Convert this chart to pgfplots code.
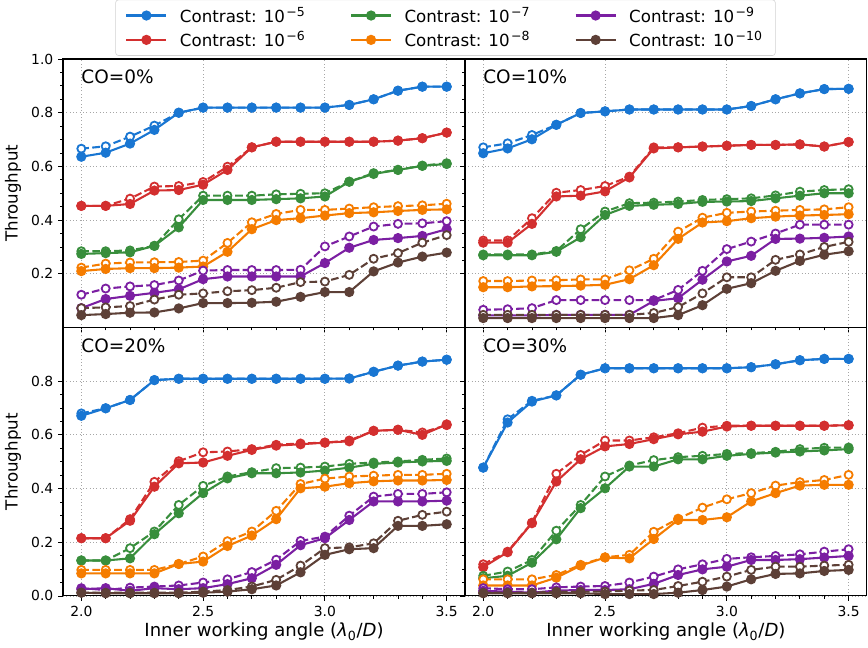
\documentclass[border=0pt]{standalone}
\usepackage{fontspec}
\setmainfont{DejaVu Sans}
\usepackage{pgfplots}
\usepackage{pgfplotstable}
\pgfplotsset{compat=1.18}
\usepgfplotslibrary{groupplots}

\definecolor{cb}{HTML}{1976D2}
\definecolor{cr}{HTML}{D32F2F}
\definecolor{cg}{HTML}{388E3C}
\definecolor{co}{HTML}{F57C00}
\definecolor{cp}{HTML}{7B1FA2}
\definecolor{cn}{HTML}{5D4037}

% x, then solid/dashed for 1e-5 (b), 1e-6 (r), 1e-7 (g), 1e-8 (o), 1e-9 (p), 1e-10 (n)
\pgfplotstableread{
x   bs    bd    rs    rd    gs    gd    os    od    ps    pd    ns    nd
2.0 0.636 0.666 0.453 0.453 0.274 0.284 0.210 0.223 0.072 0.122 0.046 0.072
2.1 0.651 0.675 0.453 0.453 0.277 0.284 0.218 0.238 0.106 0.145 0.050 0.075
2.2 0.685 0.711 0.460 0.480 0.280 0.287 0.221 0.242 0.118 0.153 0.055 0.080
2.3 0.736 0.752 0.510 0.525 0.304 0.304 0.221 0.243 0.129 0.158 0.056 0.104
2.4 0.800 0.800 0.512 0.527 0.373 0.403 0.223 0.244 0.142 0.175 0.071 0.122
2.5 0.819 0.819 0.532 0.542 0.475 0.491 0.227 0.249 0.180 0.212 0.091 0.127
2.6 0.819 0.819 0.587 0.599 0.475 0.491 0.282 0.315 0.190 0.214 0.091 0.135
2.7 0.819 0.819 0.671 0.671 0.475 0.491 0.366 0.392 0.190 0.214 0.092 0.139
2.8 0.819 0.819 0.692 0.692 0.478 0.496 0.400 0.423 0.190 0.214 0.096 0.148
2.9 0.819 0.819 0.692 0.692 0.481 0.498 0.407 0.438 0.190 0.215 0.114 0.169
3.0 0.819 0.819 0.692 0.692 0.488 0.500 0.417 0.438 0.240 0.302 0.132 0.171
3.1 0.829 0.829 0.692 0.692 0.543 0.543 0.426 0.443 0.297 0.339 0.132 0.196
3.2 0.850 0.850 0.692 0.692 0.572 0.575 0.429 0.448 0.326 0.376 0.209 0.256
3.3 0.882 0.882 0.696 0.696 0.587 0.587 0.434 0.452 0.333 0.386 0.242 0.277
3.4 0.897 0.897 0.705 0.705 0.602 0.603 0.438 0.455 0.341 0.388 0.264 0.316
3.5 0.897 0.897 0.726 0.726 0.609 0.612 0.440 0.461 0.366 0.396 0.279 0.344
}\tabA
\pgfplotstableread{
x   bs    bd    rs    rd    gs    gd    os    od    ps    pd    ns    nd
2.0 0.649 0.671 0.316 0.324 0.269 0.272 0.150 0.173 0.045 0.066 0.035 0.047
2.1 0.667 0.686 0.316 0.324 0.269 0.272 0.150 0.173 0.045 0.068 0.035 0.047
2.2 0.701 0.717 0.386 0.407 0.269 0.272 0.153 0.175 0.045 0.072 0.035 0.047
2.3 0.755 0.755 0.488 0.502 0.282 0.285 0.154 0.176 0.047 0.102 0.035 0.047
2.4 0.799 0.799 0.491 0.512 0.336 0.366 0.156 0.179 0.047 0.102 0.035 0.047
2.5 0.805 0.805 0.507 0.527 0.419 0.432 0.159 0.179 0.047 0.102 0.035 0.047
2.6 0.812 0.812 0.559 0.562 0.453 0.463 0.180 0.213 0.047 0.102 0.035 0.047
2.7 0.812 0.812 0.667 0.671 0.457 0.465 0.232 0.256 0.099 0.102 0.035 0.054
2.8 0.812 0.812 0.671 0.671 0.460 0.469 0.330 0.357 0.109 0.140 0.046 0.076
2.9 0.812 0.812 0.674 0.674 0.468 0.475 0.391 0.409 0.178 0.211 0.083 0.127
3.0 0.812 0.812 0.677 0.677 0.469 0.478 0.396 0.427 0.246 0.292 0.144 0.187
3.1 0.825 0.825 0.680 0.680 0.471 0.481 0.407 0.432 0.267 0.320 0.165 0.187
3.2 0.850 0.850 0.680 0.680 0.481 0.492 0.413 0.435 0.330 0.350 0.211 0.252
3.3 0.872 0.872 0.682 0.682 0.491 0.506 0.417 0.438 0.331 0.383 0.248 0.272
3.4 0.888 0.888 0.674 0.674 0.500 0.512 0.419 0.440 0.334 0.383 0.271 0.300
3.5 0.889 0.889 0.691 0.691 0.500 0.515 0.422 0.448 0.339 0.383 0.284 0.319
}\tabB
\pgfplotstableread{
x   bs    bd    rs    rd    gs    gd    os    od    ps    pd    ns    nd
2.0 0.671 0.680 0.215 0.215 0.132 0.132 0.084 0.097 0.025 0.029 0.012 0.012
2.1 0.699 0.699 0.215 0.215 0.132 0.132 0.084 0.097 0.029 0.022 0.010 0.012
2.2 0.730 0.730 0.280 0.286 0.140 0.178 0.084 0.097 0.019 0.031 0.010 0.012
2.3 0.804 0.804 0.407 0.425 0.230 0.240 0.084 0.097 0.029 0.035 0.010 0.012
2.4 0.809 0.809 0.494 0.502 0.308 0.339 0.119 0.119 0.025 0.039 0.010 0.012
2.5 0.809 0.809 0.497 0.535 0.383 0.410 0.128 0.147 0.029 0.050 0.012 0.016
2.6 0.809 0.809 0.522 0.538 0.438 0.445 0.186 0.204 0.044 0.062 0.016 0.022
2.7 0.809 0.809 0.544 0.547 0.457 0.461 0.225 0.240 0.066 0.089 0.025 0.035
2.8 0.809 0.809 0.560 0.563 0.457 0.476 0.286 0.317 0.116 0.135 0.039 0.060
2.9 0.809 0.809 0.565 0.568 0.460 0.478 0.401 0.417 0.189 0.205 0.088 0.113
3.0 0.809 0.809 0.571 0.571 0.467 0.482 0.407 0.437 0.215 0.221 0.153 0.178
3.1 0.810 0.810 0.576 0.579 0.478 0.492 0.420 0.445 0.283 0.299 0.174 0.181
3.2 0.835 0.835 0.615 0.615 0.492 0.497 0.427 0.448 0.352 0.370 0.178 0.196
3.3 0.858 0.858 0.619 0.619 0.497 0.501 0.430 0.451 0.352 0.380 0.261 0.280
3.4 0.873 0.873 0.600 0.609 0.501 0.507 0.430 0.451 0.352 0.380 0.261 0.302
3.5 0.880 0.880 0.639 0.636 0.503 0.512 0.432 0.455 0.355 0.386 0.267 0.314
}\tabC
\pgfplotstableread{
x   bs    bd    rs    rd    gs    gd    os    od    ps    pd    ns    nd
2.0 0.478 0.478 0.107 0.118 0.066 0.075 0.039 0.062 0.019 0.029 0.010 0.012
2.1 0.646 0.658 0.163 0.165 0.075 0.091 0.039 0.062 0.016 0.025 0.010 0.012
2.2 0.724 0.727 0.271 0.273 0.124 0.134 0.039 0.062 0.012 0.025 0.010 0.012
2.3 0.747 0.747 0.426 0.455 0.211 0.243 0.068 0.078 0.020 0.032 0.010 0.016
2.4 0.824 0.824 0.509 0.525 0.327 0.339 0.113 0.116 0.022 0.035 0.010 0.016
2.5 0.848 0.848 0.557 0.579 0.401 0.445 0.143 0.144 0.022 0.037 0.007 0.016
2.6 0.848 0.848 0.566 0.579 0.482 0.486 0.140 0.153 0.025 0.050 0.007 0.020
2.7 0.848 0.848 0.584 0.591 0.482 0.506 0.212 0.239 0.045 0.072 0.007 0.022
2.8 0.848 0.848 0.602 0.606 0.509 0.517 0.283 0.288 0.078 0.099 0.012 0.037
2.9 0.848 0.848 0.612 0.627 0.509 0.522 0.283 0.329 0.099 0.118 0.022 0.053
3.0 0.848 0.848 0.631 0.634 0.522 0.529 0.293 0.360 0.109 0.138 0.035 0.072
3.1 0.852 0.852 0.634 0.634 0.529 0.532 0.352 0.383 0.134 0.144 0.062 0.097
3.2 0.863 0.863 0.634 0.634 0.534 0.537 0.383 0.411 0.134 0.149 0.082 0.109
3.3 0.878 0.878 0.634 0.634 0.538 0.547 0.411 0.424 0.137 0.155 0.084 0.109
3.4 0.883 0.883 0.634 0.634 0.542 0.552 0.414 0.432 0.143 0.165 0.093 0.113
3.5 0.883 0.883 0.636 0.636 0.547 0.553 0.414 0.451 0.149 0.174 0.097 0.116
}\tabD

\pgfplotsset{
  sol/.style={color=#1, line width=1.5pt, solid, mark=*, mark size=2.9pt,
    mark options={solid, fill=#1}},
  das/.style={color=#1, line width=1.5pt, dash pattern=on 5.5pt off 2.4pt,
    mark=*, mark size=2.9pt, mark options={solid, fill=white, line width=1.3pt}},
}

\newcommand{\panel}[1]{%
  \addplot[das=cb, forget plot] table[x=x, y=bd] {#1};
  \addplot[sol=cb, forget plot] table[x=x, y=bs] {#1};
  \addplot[das=cr, forget plot] table[x=x, y=rd] {#1};
  \addplot[sol=cr, forget plot] table[x=x, y=rs] {#1};
  \addplot[das=cg, forget plot] table[x=x, y=gd] {#1};
  \addplot[sol=cg, forget plot] table[x=x, y=gs] {#1};
  \addplot[das=co, forget plot] table[x=x, y=od] {#1};
  \addplot[sol=co, forget plot] table[x=x, y=os] {#1};
  \addplot[das=cp, forget plot] table[x=x, y=pd] {#1};
  \addplot[sol=cp, forget plot] table[x=x, y=ps] {#1};
  \addplot[das=cn, forget plot] table[x=x, y=nd] {#1};
  \addplot[sol=cn, forget plot] table[x=x, y=ns] {#1};
}

\newcommand{\sups}[1]{\kern1pt\textsuperscript{\fontsize{9}{9}\selectfont #1}}

\begin{document}
\begin{tikzpicture}
\begin{groupplot}[
  group style={group size=2 by 2, horizontal sep=0pt, vertical sep=0pt},
  scale only axis,
  width=289.4pt, height=193.3pt,
  xmin=1.925, xmax=3.575, ymin=0, ymax=1.0,
  xtick={2.0,2.5,3.0,3.5},
  minor x tick num=4,
  minor y tick num=3,
  tick align=outside,
  xtick pos=bottom, ytick pos=left,
  major tick length=3.5pt, minor tick length=2pt,
  every tick/.style={black, line width=0.6pt},
  axis line style={black, line width=0.8pt},
  grid=major,
  major grid style={gray!70, dotted, line width=0.6pt},
  tick label style={font=\fontsize{10}{12}\selectfont},
  /pgf/number format/assume math mode=true,
  xticklabel style={/pgf/number format/.cd, fixed, fixed zerofill, precision=1},
  yticklabel style={/pgf/number format/.cd, fixed, fixed zerofill, precision=1},
  every axis y label/.style={at={(axis description cs:0,0.5)}, xshift=-36pt,
    rotate=90, anchor=center, font=\fontsize{12}{14}\selectfont},
  every axis x label/.style={at={(axis description cs:0.5,0)}, yshift=-26pt,
    anchor=center, font=\fontsize{13}{15}\selectfont},
  clip=false,
]
% ---------- CO=0% ----------
\nextgroupplot[
  ytick={0.2,0.4,0.6,0.8,1.0}, xticklabels={},
  ylabel={Throughput},
  legend columns=3,
  legend cell align=left,
  legend style={at={(0.9515,1.012)}, anchor=south,
    draw=black!18, rounded corners=2pt, fill=white,
    font=\fontsize{12}{14}\selectfont,
    /tikz/every odd column/.append style={column sep=7pt},
    /tikz/every even column/.append style={column sep=30pt},
    inner xsep=7pt, inner ysep=3pt, row sep=1pt},
  legend image code/.code={%
    \draw[#1, mark repeat=2, mark phase=2] plot coordinates {(0pt,0pt) (14.4pt,0pt) (28.8pt,0pt)};},
]
\addlegendimage{sol=cb}\addlegendentry{Contrast: 10\sups{−5}}
\addlegendimage{sol=cg}\addlegendentry{Contrast: 10\sups{−7}}
\addlegendimage{sol=cp}\addlegendentry{Contrast: 10\sups{−9}}
\addlegendimage{sol=cr}\addlegendentry{Contrast: 10\sups{−6}}
\addlegendimage{sol=co}\addlegendentry{Contrast: 10\sups{−8}}
\addlegendimage{sol=cn}\addlegendentry{Contrast: 10\sups{−10}}
\panel{\tabA}
\node[anchor=base west, inner sep=0pt, font=\fontsize{13.3}{15}\selectfont]
  at (axis description cs:0.045,0.907) {CO=0\%};
% ---------- CO=10% ----------
\nextgroupplot[
  ytick={0.2,0.4,0.6,0.8,1.0}, xticklabels={}, yticklabels={},
]
\panel{\tabB}
\node[anchor=base west, inner sep=0pt, font=\fontsize{13.3}{15}\selectfont]
  at (axis description cs:0.045,0.907) {CO=10\%};
% ---------- CO=20% ----------
\nextgroupplot[
  ytick={0,0.2,0.4,0.6,0.8},
  ylabel={Throughput},
  xlabel={Inner working angle ({\itshape λ}\textsubscript{0}/{\itshape D})},
]
\panel{\tabC}
\node[anchor=base west, inner sep=0pt, font=\fontsize{13.3}{15}\selectfont]
  at (axis description cs:0.045,0.907) {CO=20\%};
% ---------- CO=30% ----------
\nextgroupplot[
  ytick={0,0.2,0.4,0.6,0.8}, yticklabels={},
  xlabel={Inner working angle ({\itshape λ}\textsubscript{0}/{\itshape D})},
]
\panel{\tabD}
\node[anchor=base west, inner sep=0pt, font=\fontsize{13.3}{15}\selectfont]
  at (axis description cs:0.045,0.907) {CO=30\%};
\end{groupplot}
\pgfresetboundingbox
\path[use as bounding box]
  ([shift={(-45.4pt,-37.4pt)}]group c1r2.south west) rectangle
  ([shift={(579.6pt,429.1pt)}]group c1r2.south west);
\end{tikzpicture}
\end{document}
